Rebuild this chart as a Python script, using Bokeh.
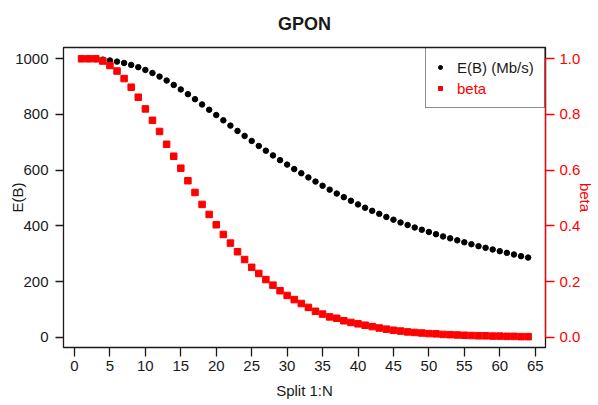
import math
from bokeh.plotting import figure
from bokeh.models import (LinearAxis, Range1d, FixedTicker, PrintfTickFormatter,
                          Legend, LegendItem, Label)
from bokeh.embed import file_html
from bokeh.resources import INLINE

# ---- data ----
split_n = list(range(1, 65))
eb_mbps = [1000, 1000, 999, 997, 994, 990, 985, 978, 970, 960, 949, 936, 922, 906,
           890, 873, 855, 836, 817, 798, 779, 760, 741, 723, 705, 687, 670, 653,
           636, 620, 604, 589, 574, 559, 544, 530, 516, 503, 490, 477, 465, 454,
           443, 432, 422, 412, 403, 394, 386, 378, 370, 362, 355, 348, 341, 334,
           327, 321, 315, 309, 303, 297, 291, 286]
beta = [1.0, 1.0, 1.0, 0.992, 0.976, 0.956, 0.929, 0.898, 0.862, 0.820, 0.779,
        0.739, 0.693, 0.650, 0.607, 0.562, 0.520, 0.477, 0.441, 0.404, 0.369,
        0.338, 0.307, 0.279, 0.251, 0.229, 0.207, 0.187, 0.167, 0.150, 0.135,
        0.121, 0.107, 0.093, 0.083, 0.073, 0.068, 0.059, 0.053, 0.048, 0.043,
        0.038, 0.033, 0.029, 0.025, 0.022, 0.019, 0.017, 0.015, 0.013, 0.012,
        0.010, 0.009, 0.008, 0.007, 0.006, 0.005, 0.005, 0.004, 0.004, 0.003,
        0.003, 0.002, 0.002]
x_ticks = [0, 5, 10, 15, 20, 25, 30, 35, 40, 45, 50, 55, 60, 65]
left_ticks = [0, 200, 400, 600, 800, 1000]
right_ticks = [0.0, 0.2, 0.4, 0.6, 0.8, 1.0]
title_text = "GPON"
x_label = "Split 1:N"
left_label = "E(B)"
right_label = "beta"
series_labels = ["E(B) (Mb/s)", "beta"]

FONT = "Liberation Sans"
FS = "15px"
INK = "#1a1a1a"

W, H = 598, 405
BL, BR, BT, BB = 63, 53, 47, 58

p = figure(width=W, height=H, output_backend="svg", toolbar_location=None,
           x_range=Range1d(-1.55, 66.45), y_range=Range1d(-37, 1040.6),
           min_border_left=BL, min_border_right=BR, min_border_top=BT,
           min_border_bottom=BB, title=title_text)
p.background_fill_color = "white"
p.border_fill_color = "white"
p.outline_line_color = INK
p.outline_line_width = 1.3
p.xgrid.visible = False
p.ygrid.visible = False

p.title.text_font = FONT
p.title.text_font_size = "18px"
p.title.text_font_style = "bold"
p.title.text_color = INK
p.title.align = "center"
p.title.vertical_align = "top"
p.title.standoff = 23

p.extra_y_ranges = {"beta": Range1d(-0.037, 1.0406)}

# bottom axis
xa = p.xaxis[0]
xa.ticker = FixedTicker(ticks=x_ticks)
xa.axis_line_color = None
xa.major_tick_in = 0
xa.major_tick_out = 9
xa.minor_tick_line_color = None
xa.major_tick_line_color = INK
xa.major_tick_line_width = 1.3
xa.major_label_standoff = 4
xa.major_label_text_font = FONT
xa.major_label_text_font_size = FS
xa.major_label_text_color = INK
xa.axis_label = x_label
xa.axis_label_text_font = FONT
xa.axis_label_text_font_size = FS
xa.axis_label_text_font_style = "normal"
xa.axis_label_text_color = INK
xa.axis_label_standoff = 8

# left axis
ya = p.yaxis[0]
ya.ticker = FixedTicker(ticks=left_ticks)
ya.axis_line_color = None
ya.major_tick_in = 0
ya.major_tick_out = 8
ya.minor_tick_line_color = None
ya.major_tick_line_color = INK
ya.major_tick_line_width = 1.3
ya.major_label_standoff = 7
ya.major_label_orientation = "horizontal"
ya.major_label_text_font = FONT
ya.major_label_text_font_size = FS
ya.major_label_text_color = INK
ya.axis_label = left_label
ya.axis_label_text_font = FONT
ya.axis_label_text_font_size = FS
ya.axis_label_text_font_style = "normal"
ya.axis_label_text_color = INK
ya.axis_label_standoff = -14

# right axis (beta)
ra = LinearAxis(y_range_name="beta")
ra.ticker = FixedTicker(ticks=right_ticks)
ra.formatter = PrintfTickFormatter(format="%.1f")
ra.bounds = (0, 1)
ra.axis_line_color = "red"
ra.axis_line_width = 1.3
ra.major_tick_in = 0
ra.major_tick_out = 9
ra.minor_tick_line_color = None
ra.major_tick_line_color = "red"
ra.major_tick_line_width = 1.3
ra.major_label_standoff = 5
ra.major_label_orientation = "horizontal"
ra.major_label_text_font = FONT
ra.major_label_text_font_size = FS
ra.major_label_text_color = "red"
ra.axis_label = right_label
ra.axis_label_text_font = FONT
ra.axis_label_text_font_size = FS
ra.axis_label_text_font_style = "normal"
ra.axis_label_text_color = "red"
ra.axis_label_standoff = -6
p.add_layout(ra, "right")

dots = p.scatter(split_n, eb_mbps, marker="circle", size=5.5, color="black")
sq = p.scatter(split_n, beta, marker="square", size=6.5, color="red",
               y_range_name="beta")

# legend box and glyphs; its texts are drawn as labels so that colours differ
leg = Legend(items=[LegendItem(label=series_labels[0], renderers=[dots]),
                    LegendItem(label=series_labels[1], renderers=[sq])],
             location="top_right", margin=0, padding=9, spacing=1,
             glyph_width=10, glyph_height=20, label_height=20, label_width=80,
             label_standoff=10, label_text_font=FONT, label_text_font_size=FS,
             label_text_alpha=0.0, border_line_color=INK, border_line_width=1.5,
             background_fill_alpha=0.0)
p.add_layout(leg)

FL = BL
FB = H - BB


def frame_label(text, cx, cy, color=INK):
    lab = Label(x=cx - FL, y=FB - cy, x_units="screen", y_units="screen",
                text=text, text_font=FONT, text_font_size=FS,
                text_color=color, text_align="left", text_baseline="middle")
    p.add_layout(lab)
    return lab


frame_label(series_labels[0], 456.5, 66.5)
frame_label(series_labels[1], 456.5, 87.5, color="red")

open("out.html", "w").write(file_html(p, INLINE))
